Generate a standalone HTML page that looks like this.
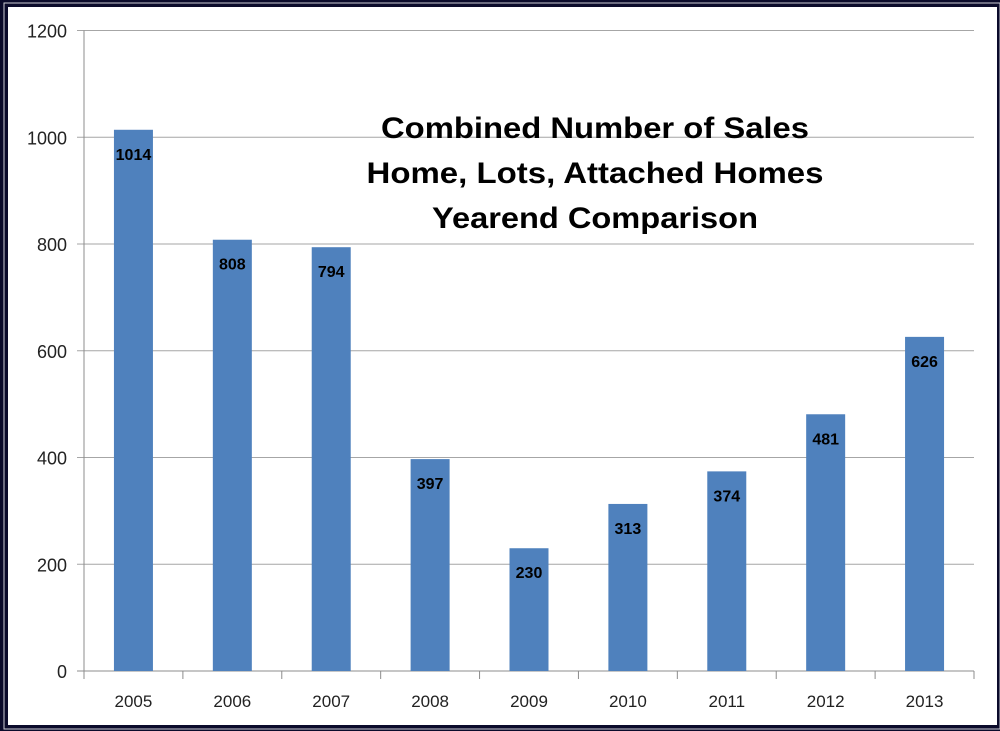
<!DOCTYPE html>
<html><head><meta charset="utf-8"><style>
body{margin:0;background:#0b0b2b;}
svg{display:block;font-family:"Liberation Sans",sans-serif;}
</style></head><body>
<svg id="chart" width="1000" height="731" viewBox="0 0 1000 731">
<rect x="0" y="0" width="1000" height="731" fill="#0b0b2b"/>
<rect x="4" y="3" width="996" height="726" fill="none" stroke="#ffffff" stroke-width="1" opacity="0.8"/>
<rect x="8" y="7" width="989" height="718" fill="#ffffff"/>
<g id="grid"></g>
<g id="bars"></g>
<g id="axes"></g>
<g font-weight="bold" font-size="30" fill="#000" text-anchor="middle">
<text x="595" y="138" textLength="428" lengthAdjust="spacingAndGlyphs">Combined Number of Sales</text>
<text x="595" y="183" textLength="457" lengthAdjust="spacingAndGlyphs">Home, Lots, Attached Homes</text>
<text x="595" y="228" textLength="326" lengthAdjust="spacingAndGlyphs">Yearend Comparison</text>
</g>
</svg>
<script>
const categories=["2005","2006","2007","2008","2009","2010","2011","2012","2013"];
const values=[1014,808,794,397,230,313,374,481,626];
const yTicks=[0,200,400,600,800,1000,1200];
const NS="http://www.w3.org/2000/svg";
const L=84,R=974,T=30.5,B=671,YMAX=1200;
const y=v=>B-(v/YMAX)*(B-T);
const bw=(R-L)/categories.length;
const xc=i=>L+bw*(i+0.5);
function mk(tag,attrs,parent){const e=document.createElementNS(NS,tag);for(const k in attrs)e.setAttribute(k,attrs[k]);parent.appendChild(e);return e;}
const grid=document.getElementById('grid'),bars=document.getElementById('bars'),axes=document.getElementById('axes');
yTicks.forEach(t=>{
  const l=mk('line',{x1:L-7,x2:R,y1:y(t),y2:y(t),stroke:t===0?'#8c8c8c':'#a6a6a6','stroke-width':1},grid);
  
  
  const tx=mk('text',{x:L-17,y:y(t)+7,'text-anchor':'end','font-size':18,fill:'#222'},axes);
  tx.textContent=t;
  
  
});
const ya=mk('line',{x1:L,x2:L,y1:T,y2:B,stroke:'#8c8c8c'},axes);


for(let i=0;i<=categories.length;i++){
  const tk=mk('line',{x1:L+bw*i,x2:L+bw*i,y1:B,y2:B+8,stroke:'#8c8c8c'},axes);
  
  
}
categories.forEach((c,i)=>{
  const v=values[i];
  const r=mk('rect',{x:xc(i)-19.5,y:y(v),width:39,height:B-y(v),fill:'#4f81bd'},bars);
  
  
  const lb=mk('text',{x:xc(i),y:y(v)+30,'text-anchor':'middle','font-size':16,'font-weight':'bold',fill:'#000'},bars);
  lb.textContent=v;
  
  
  const xl=mk('text',{x:xc(i),y:B+36,'text-anchor':'middle','font-size':17,fill:'#222'},axes);
  xl.textContent=c;
  
  
});
</script>
</body></html>
